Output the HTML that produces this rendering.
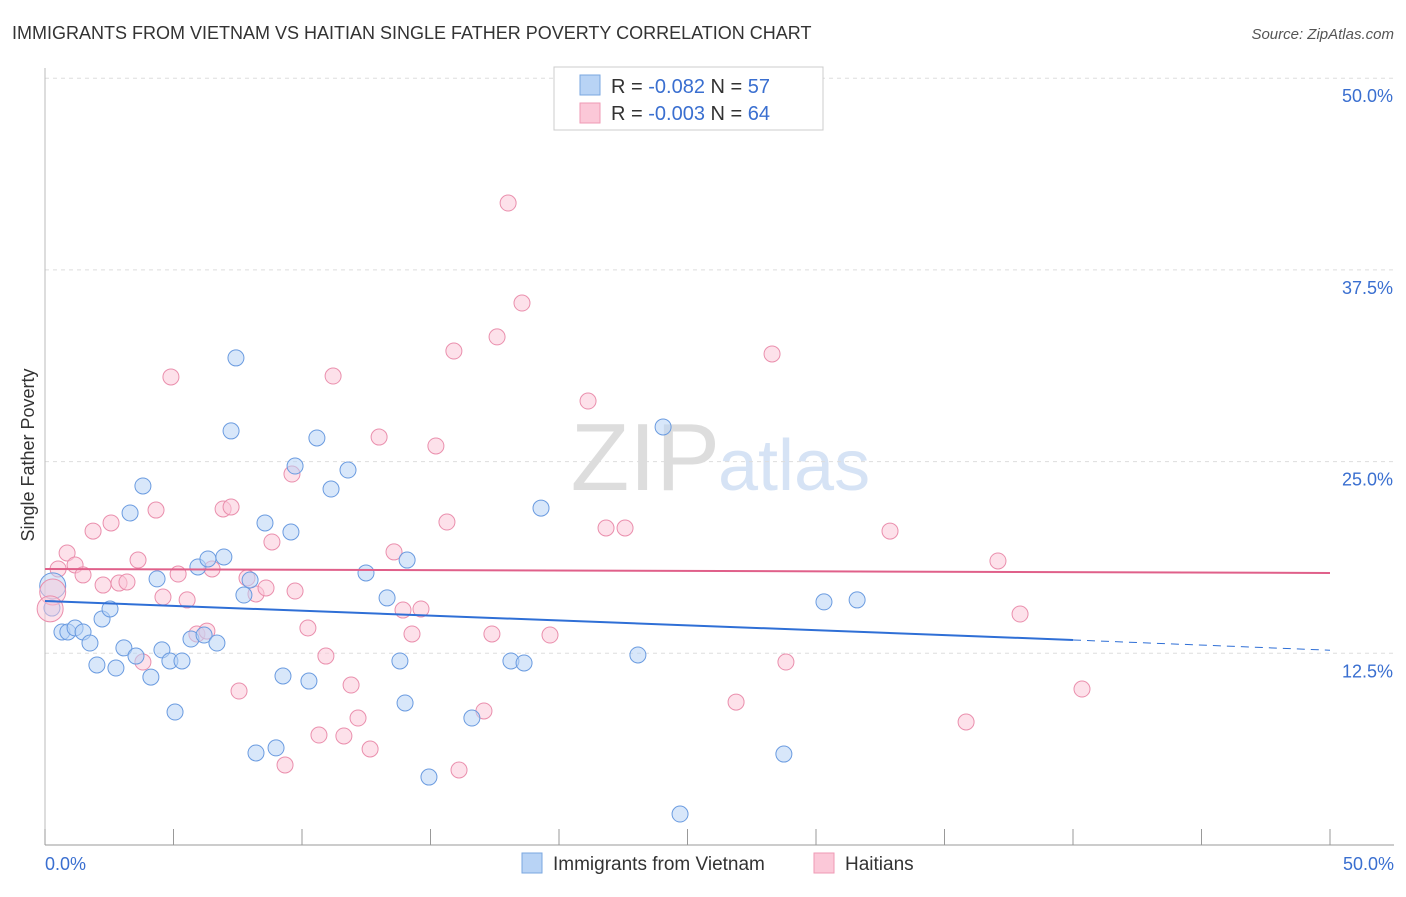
<!DOCTYPE html>
<html><head><meta charset="utf-8">
<style>
body{margin:0;background:#fff;font-family:"Liberation Sans",sans-serif;}
svg text{font-family:"Liberation Sans",sans-serif;}
</style></head>
<body>
<svg id="chart" width="1406" height="892">
<text x="12" y="39" font-size="18" fill="#333">IMMIGRANTS FROM VIETNAM VS HAITIAN SINGLE FATHER POVERTY CORRELATION CHART</text>
<text x="1394" y="39" font-size="15" fill="#555" text-anchor="end" font-style="italic">Source: ZipAtlas.com</text>
<text x="34" y="455" font-size="18" fill="#333" text-anchor="middle" transform="rotate(-90 34 455)">Single Father Poverty</text>
<text x="720" y="490" font-size="96" fill="#ddd" text-anchor="end" font-family="Liberation Serif">ZIP</text>
<text x="718" y="490" font-size="72" fill="#d6e3f5">atlas</text>
<g id="grid"></g><g id="marks"></g>
<g>
<rect x="554" y="67" width="269" height="63" fill="#fff" stroke="#ccc"/>
<rect x="580" y="75" width="20" height="20" fill="#b8d3f5" stroke="#7aa7e0"/>
<rect x="580" y="103" width="20" height="20" fill="#fbc8d8" stroke="#ef9ab5"/>
<text x="611" y="93" font-size="20" fill="#333">R = <tspan fill="#3a6fd0">-0.082</tspan>   N = <tspan fill="#3a6fd0">57</tspan></text>
<text x="611" y="120" font-size="20" fill="#333">R = <tspan fill="#3a6fd0">-0.003</tspan>   N = <tspan fill="#3a6fd0">64</tspan></text>
</g>
<g>
<rect x="522" y="853" width="20" height="20" fill="#b8d3f5" stroke="#7aa7e0"/>
<text x="553" y="870" font-size="19" fill="#333">Immigrants from Vietnam</text>
<rect x="814" y="853" width="20" height="20" fill="#fbc8d8" stroke="#ef9ab5"/>
<text x="845" y="870" font-size="19" fill="#333">Haitians</text>
</g>
</svg>
<script>
const yTicks=[12.5,25,37.5,50];
const yTickLabels=["12.5%","25.0%","37.5%","50.0%"];
const blueX=[0.27,0.66,0.89,1.17,1.48,1.75,2.22,2.53,2.02,2.76,3.07,3.54,4.12,3.81,3.31,4.36,4.55,4.86,5.33,5.06,5.68,6.19,6.69,5.95,6.34,6.96,7.43,7.24,7.74,7.98,8.21,8.56,8.99,9.26,9.57,9.73,10.27,10.58,11.13,11.79,12.49,13.31,13.81,14.01,14.09,14.94,16.61,18.13,18.64,19.3,23.07,24.05,24.71,28.75,30.31,31.6];
const blueY=[15.45,13.89,13.89,14.15,13.89,13.17,14.74,15.39,11.74,11.54,12.85,12.32,10.95,23.41,21.65,17.35,12.72,12.0,12.0,8.67,13.43,13.69,13.17,18.13,18.65,18.78,31.76,27.0,16.3,17.28,6.0,21.0,6.33,11.02,20.41,24.71,10.69,26.54,23.21,24.45,17.74,16.11,12.0,9.26,18.58,4.43,8.28,12.0,11.87,21.97,12.39,27.26,2.02,5.93,15.85,15.98];
const pinkX=[0.51,0.86,1.17,1.48,1.87,2.26,2.57,2.88,3.19,3.62,3.81,4.32,4.59,4.9,5.18,5.53,5.91,6.3,6.5,6.93,7.24,7.55,7.86,8.21,8.6,8.83,9.34,9.61,9.73,10.23,10.66,10.93,11.21,11.63,11.91,12.18,12.65,13.0,13.58,13.93,14.28,14.63,15.21,15.64,15.91,16.11,17.08,17.39,17.59,18.02,18.56,19.65,21.13,21.83,22.57,26.89,28.29,28.83,32.88,35.84,37.08,37.94,40.35];
const pinkY=[18.0,19.04,18.26,17.61,20.47,16.95,21.0,17.08,17.15,18.58,11.93,21.84,16.17,30.52,17.67,15.98,13.76,13.95,18.0,21.91,22.04,10.04,17.41,16.37,16.76,19.76,5.22,24.19,16.56,14.15,7.17,12.32,30.58,7.11,10.43,8.28,6.26,26.6,19.11,15.32,13.76,15.39,26.02,21.06,32.21,4.89,8.74,13.76,33.13,41.86,35.34,13.69,28.95,20.67,20.67,9.32,32.02,11.93,20.47,8.02,18.52,15.06,10.17];
const blueTrend=[15.91,13.37,12.7]; // at x=0, 40, 50
const pinkTrend=[18.0,17.74];
const NS="http://www.w3.org/2000/svg";
const sx=v=>45+v*25.7, sy=v=>845-v*15.336;
function mk(tag,attrs,parent){const e=document.createElementNS(NS,tag);for(const k in attrs)e.setAttribute(k,attrs[k]);parent.appendChild(e);return e;}
const grid=document.getElementById('grid'),marks=document.getElementById('marks');
yTicks.forEach((t,i)=>{
 const l=mk('line',{x1:45,x2:1394,y1:sy(t),y2:sy(t),stroke:'#ddd','stroke-dasharray':'4 4'},grid);
 
 
 const tx=mk('text',{x:1393,y:sy(t)+24,'font-size':18,fill:'#3a6fd0','text-anchor':'end'},grid);
 tx.textContent=yTickLabels[i];
 
 
});
const ax=mk('line',{x1:45,x2:1394,y1:845,y2:845,stroke:'#999'},grid);


const ay=mk('line',{x1:45,x2:45,y1:68,y2:845,stroke:'#bbb'},grid);


for(let i=0;i<=10;i++){const t=mk('line',{x1:sx(i*5),x2:sx(i*5),y1:829,y2:845,stroke:'#999'},grid);
 
 }
[["0.0%",45,'start'],["50.0%",1394,'end']].forEach(a=>{const t=mk('text',{x:a[1],y:870,'font-size':18,fill:'#3a6fd0','text-anchor':a[2]},grid);t.textContent=a[0];
 
 });
function dots(X,Y,fill,stroke,name){X.forEach((x,i)=>{const c=mk('circle',{cx:sx(x),cy:sy(Y[i]),r:8,fill:fill,'fill-opacity':0.55,stroke:stroke,'stroke-width':1},marks);
 
 });}
dots(pinkX,pinkY,'#fbc8d8','#ea8fad','haitian-point');
dots(blueX,blueY,'#b8d3f5','#6a9be0','vietnam-point');
[[0.3,16.9,'#b8d3f5','#6a9be0'],[0.3,16.5,'#fbc8d8','#ea8fad'],[0.2,15.4,'#fbc8d8','#ea8fad']].forEach(b=>{const c=mk('circle',{cx:sx(b[0]),cy:sy(b[1]),r:13,fill:b[2],'fill-opacity':0.5,stroke:b[3]},marks);
 
 });
const bl=mk('line',{x1:sx(0),y1:sy(blueTrend[0]),x2:sx(40),y2:sy(blueTrend[1]),stroke:'#2f6fd6','stroke-width':2},marks);


const bd=mk('line',{x1:sx(40),y1:sy(blueTrend[1]),x2:sx(50),y2:sy(blueTrend[2]),stroke:'#2f6fd6','stroke-width':1,'stroke-dasharray':'8 6'},marks);


const pl=mk('line',{x1:sx(0),y1:sy(pinkTrend[0]),x2:sx(50),y2:sy(pinkTrend[1]),stroke:'#e0608a','stroke-width':2},marks);


</script>
</body></html>
